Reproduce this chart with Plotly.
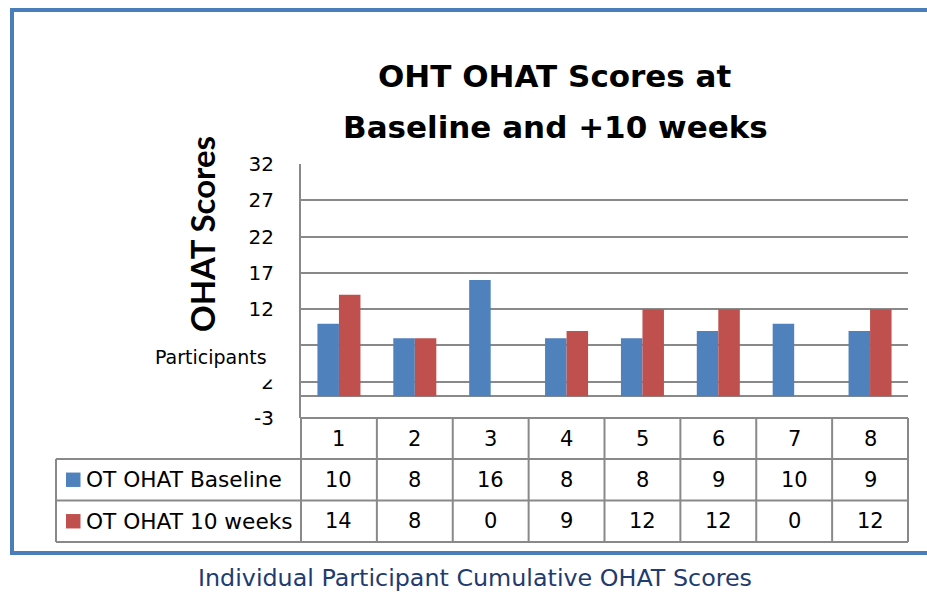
import plotly.graph_objects as go

participants = ["1", "2", "3", "4", "5", "6", "7", "8"]
baseline = [10, 8, 16, 8, 8, 9, 10, 9]
weeks10 = [14, 8, 0, 9, 12, 12, 0, 12]
series_names = ["OT OHAT Baseline", "OT OHAT 10 weeks"]
y_ticks = [-3, 2, 7, 12, 17, 22, 27, 32]
title_lines = ["OHT OHAT Scores at", "Baseline and +10 weeks"]

BLUE = "#4F81BD"
RED = "#C0504D"
GRID = "#898989"
FONT = "DejaVu Sans"
W, H = 927, 594


def px(x):
    return x / W


def py(y):
    return 1 - y / H


xdom = [px(301), px(908)]
ydom = [py(418), py(164)]

fig = go.Figure()
fig.add_trace(go.Bar(x=participants, y=baseline, name=series_names[0],
                     marker=dict(color=BLUE, line=dict(width=0))))
fig.add_trace(go.Bar(x=participants, y=weeks10, name=series_names[1],
                     marker=dict(color=RED, line=dict(width=0))))

shapes = []
annotations = []

# outer frame
shapes.append(dict(type="rect", xref="paper", yref="paper",
                   x0=px(12), x1=px(980), y0=py(553), y1=py(10),
                   line=dict(color="#4A7EBB", width=4), fillcolor="rgba(0,0,0,0)"))

# data table geometry derived from the x-axis domain
n = len(participants)
colw = (xdom[1] - xdom[0]) / n
row_tops = [418, 459, 500.5, 542]
table_left = px(56)
line_style = dict(color=GRID, width=2)
for i, yy in enumerate(row_tops):
    x0 = xdom[0] if i == 0 else table_left
    shapes.append(dict(type="line", xref="paper", yref="paper",
                       x0=x0, x1=xdom[1], y0=py(yy), y1=py(yy), line=line_style))
for i in range(n + 1):
    xx = xdom[0] + i * colw
    shapes.append(dict(type="line", xref="paper", yref="paper",
                       x0=xx, x1=xx, y0=py(row_tops[0]), y1=py(row_tops[-1]), line=line_style))
shapes.append(dict(type="line", xref="paper", yref="paper",
                   x0=table_left, x1=table_left, y0=py(row_tops[1]), y1=py(row_tops[-1]),
                   line=line_style))

cell_font = dict(family=FONT, size=21, color="#000000")
legend_font = dict(family=FONT, size=21.7, color="#000000")
col_centers = [xdom[0] + (i + 0.5) * colw for i in range(n)]
for xc, p in zip(col_centers, participants):
    annotations.append(dict(x=xc, xref="paper", y=py((row_tops[0] + row_tops[1]) / 2), yref="paper",
                            text=p, showarrow=False, font=cell_font,
                            xanchor="center", yanchor="middle"))
rows = [baseline, weeks10]
colors = [BLUE, RED]
for r, vals in enumerate(rows):
    yc = py((row_tops[r + 1] + row_tops[r + 2]) / 2)
    for xc, v in zip(col_centers, vals):
        annotations.append(dict(x=xc, xref="paper", y=yc, yref="paper", text=str(v),
                                showarrow=False, font=cell_font,
                                xanchor="center", yanchor="middle"))
    shapes.append(dict(type="rect", xref="paper", yref="paper",
                       x0=px(66), x1=px(80.5), y0=yc - 7.2 / H, y1=yc + 7.2 / H,
                       fillcolor=colors[r], line=dict(width=0)))
    annotations.append(dict(x=px(84), xref="paper", y=yc, yref="paper", text=series_names[r],
                            showarrow=False, font=legend_font, xanchor="left", yanchor="middle"))

# x-axis title (sits over the y tick area like the source, hiding the "7" tick)
annotations.append(dict(x=px(211), xref="paper", y=py(357), yref="paper", text="Participants",
                        showarrow=False, font=dict(family=FONT, size=19, color="#000000"),
                        xanchor="center", yanchor="middle", bgcolor="#FFFFFF",
                        borderpad=11))

# chart title lines
for i, t in enumerate(title_lines):
    annotations.append(dict(x=px(555), xref="paper", y=py(76 + 51 * i), yref="paper",
                            text="<b>%s</b>" % t, showarrow=False,
                            font=dict(family=FONT, size=31, color="#000000"),
                            xanchor="center", yanchor="middle"))

# caption below the frame
annotations.append(dict(x=px(475), xref="paper", y=py(578), yref="paper",
                        text="Individual Participant Cumulative OHAT Scores",
                        showarrow=False, font=dict(family=FONT, size=23.8, color="#1F3B6F"),
                        xanchor="center", yanchor="middle"))

# y-axis title
annotations.append(dict(x=px(202), xref="paper", y=py(234), yref="paper", text="<b>OHAT Scores</b>",
                        showarrow=False, textangle=-90,
                        font=dict(family="Lato", size=33, color="#000000"),
                        xanchor="center", yanchor="middle"))

fig.update_layout(
    width=W, height=H,
    margin=dict(l=0, r=0, t=0, b=0, autoexpand=False),
    paper_bgcolor="#FFFFFF", plot_bgcolor="#FFFFFF",
    barmode="group", bargap=0.433, bargroupgap=0,
    showlegend=False,
    xaxis=dict(domain=xdom, type="category", showticklabels=False, showgrid=False,
               showline=False, zeroline=False, ticks="", automargin=False),
    yaxis=dict(domain=ydom, range=[-3, 32], tickvals=y_ticks,
               ticktext=[str(t) for t in y_ticks],
               showgrid=True, gridcolor=GRID, gridwidth=2,
               zeroline=True, zerolinecolor=GRID, zerolinewidth=2,
               showline=True, linecolor=GRID, linewidth=2,
               ticks="", ticklabelstandoff=21, automargin=False,
               tickfont=dict(family=FONT, size=20, color="#000000")),
    shapes=shapes,
    annotations=annotations,
)

fig.write_html("out.html", config={"displayModeBar": False},
               post_script="document.body.style.margin='0px';")
